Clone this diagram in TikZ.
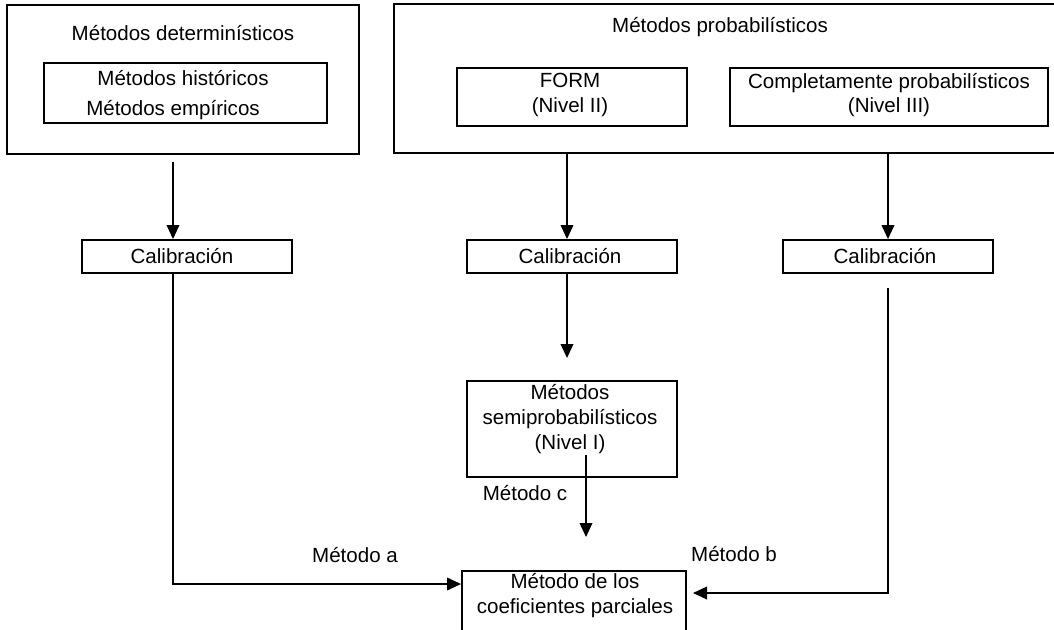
\documentclass[tikz,border=0pt]{standalone}
\usepackage{fontspec}
\setmainfont{Liberation Sans}
\usetikzlibrary{arrows.meta,calc}
\tikzset{
  box/.style={draw=black, line width=1.4pt, inner sep=0pt, align=center},
  txt/.style={inner sep=0pt, align=center},
  arr/.style={line width=1.1pt, -{Triangle[length=10.5pt,width=9.5pt]}},
  ln/.style={line width=1.1pt},
}
\begin{document}
\begin{tikzpicture}[x=0.75pt,y=-0.75pt,font=\fontsize{15.4}{18.6}\selectfont]
\useasboundingbox (0,0) rectangle (1054,629);
\clip (0,0) rectangle (1054,629);
% top-left group
\node[box, minimum width=352*0.75pt, minimum height=149*0.75pt] (detbox) at (183,79.5) {};
\node[txt] (dettitle) at (183,33) {Métodos determinísticos};
\node[box, minimum width=283*0.75pt, minimum height=60*0.75pt] (inner) at (185.5,93) {};
\node[txt] (hist) at (183,78) {Métodos históricos};
\node[txt] (emp) at (173,110) {Métodos empíricos};
% top-right group
\node[box, minimum width=666*0.75pt, minimum height=149*0.75pt] (probbox) at (727,78.5) {};
\node[txt] (probtitle) at (720,27) {Métodos probabilísticos};
\node[box, minimum width=230*0.75pt, minimum height=58*0.75pt] (form) at (572,97) {};
\node[txt] (formtxt) at (570,95) {FORM\\(Nivel II)};
\node[box, minimum width=318*0.75pt, minimum height=58*0.75pt] (comp) at (889,97) {};
\node[txt] (comptxt) at (889,95) {Completamente probabilísticos\\(Nivel III)};
% calibration boxes
\node[box, minimum width=210*0.75pt, minimum height=33*0.75pt] (calL) at (187,256.5) {};
\node[txt] (calLt) at (182,256.5) {Calibración};
\node[box, minimum width=210*0.75pt, minimum height=33*0.75pt] (calM) at (572,256.5) {};
\node[txt] (calMt) at (570,256.5) {Calibración};
\node[box, minimum width=210*0.75pt, minimum height=33*0.75pt] (calR) at (888,256.5) {};
\node[txt] (calRt) at (885,256.5) {Calibración};
% semiprobabilistic
\node[box, minimum width=210*0.75pt, minimum height=96*0.75pt] (semi) at (572,429) {};
\node[txt] (semit) at (570,419) {Métodos\\semiprobabilísticos\\(Nivel I)};
% partial coefficients
\node[box, minimum width=224*0.75pt, minimum height=90*0.75pt] (coef) at (574,616) {};
\node[txt] (coeft) at (575,595.5) {Método de los\\coeficientes parciales};
% labels
\node[txt] (la) at (355,555) {Método a};
\node[txt] (lb) at (734,554) {Método b};
\node[txt] (lc) at (525,493) {Método c};
% coordinates
\coordinate (a1) at (173,162);
\coordinate (a3) at (173,584);
\coordinate (b1) at (567,153);
\coordinate (b2) at (567,358);
\coordinate (s1) at (586,455);
\coordinate (s2) at (586,537);
\coordinate (c1) at (888,153);
\coordinate (c2) at (888,288);
\coordinate (c3) at (888,593);
\coordinate (c4) at (693,593);
% connectors
\draw[arr] (a1) -- (a1 |- calL.north);
\draw[arr] (b1) -- (b1 |- calM.north);
\draw[arr] (c1) -- (c1 |- calR.north);
\draw[arr] (b1 |- calM.south) -- (b2);
\draw[arr] (s1) -- (s2);
\draw[arr] (a1 |- calL.south) -- (a3) -- (a3 -| coef.west);
\draw[arr] (c2) -- (c3) -- (c4);
\end{tikzpicture}
\end{document}
